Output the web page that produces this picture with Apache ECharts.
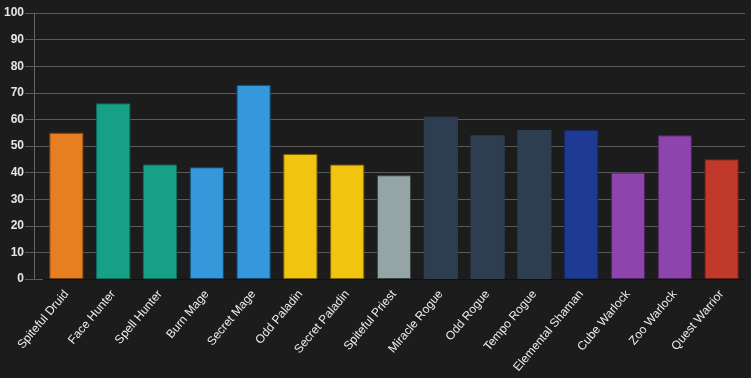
<!DOCTYPE html>
<html><head><meta charset="utf-8">
<script src="https://cdn.jsdelivr.net/npm/echarts@6/dist/echarts.min.js"></script>
<style>html,body{margin:0;padding:0;background:#1c1c1c;}#c{width:751px;height:378px;}</style>
</head><body><div id="c"></div>
<script>
const categories = ["Spiteful Druid","Face Hunter","Spell Hunter","Burn Mage","Secret Mage","Odd Paladin","Secret Paladin","Spiteful Priest","Miracle Rogue","Odd Rogue","Tempo Rogue","Elemental Shaman","Cube Warlock","Zoo Warlock","Quest Warrior"];
const values = [55,66,43,42,73,47,43,39,61,54,56,56,40,54,45];
const barColors = ["#e67e22","#16a085","#16a085","#3498db","#3498db","#f1c40f","#f1c40f","#95a5a6","#2c3e50","#2c3e50","#2c3e50","#1f3a93","#8e44ad","#8e44ad","#c0392b"];
const yTicks = {min:0, max:100, interval:10};

const chart = echarts.init(document.getElementById('c'), null, {renderer:'canvas'});
const font = 'Liberation Sans, Arial, sans-serif';
chart.setOption({
  backgroundColor:'#1c1c1c',
  animation:false,
  grid:{left:43, right:6, top:13, bottom:99, containLabel:false},
  xAxis:{type:'category', data:categories,
    axisLine:{show:true, lineStyle:{color:'#111', width:1}},
    axisTick:{show:false},
    axisLabel:{rotate:50, color:'#ececec', fontSize:12, fontFamily:font, interval:0, margin:13}
  },
  yAxis:[
    {type:'value', min:yTicks.min, max:yTicks.max, interval:yTicks.interval,
      axisLine:{show:false},
      axisTick:{show:true, length:9, lineStyle:{color:'#5a5a5a'}},
      splitLine:{lineStyle:{color:'#5a5a5a', width:1}},
      axisLabel:{show:false}
    },
    {type:'value', position:'left', offset:9, min:yTicks.min, max:yTicks.max, interval:yTicks.interval,
      axisLine:{show:true, lineStyle:{color:'#666'}},
      axisTick:{show:true, length:9, lineStyle:{color:'#5a5a5a'}},
      splitLine:{show:false},
      axisLabel:{color:'#e6e6e6', fontSize:12, fontWeight:'bold', fontFamily:font, margin:10}
    }
  ],
  series:[{type:'bar', yAxisIndex:0, barCategoryGap:'27%',
    data: values.map((v,i)=>({value:v, itemStyle:{color:barColors[i], borderColor:echarts.color.modifyHSL(barColors[i], null, null, 0.25)}})),
    itemStyle:{borderWidth:1}
  }]
});
</script></body></html>
